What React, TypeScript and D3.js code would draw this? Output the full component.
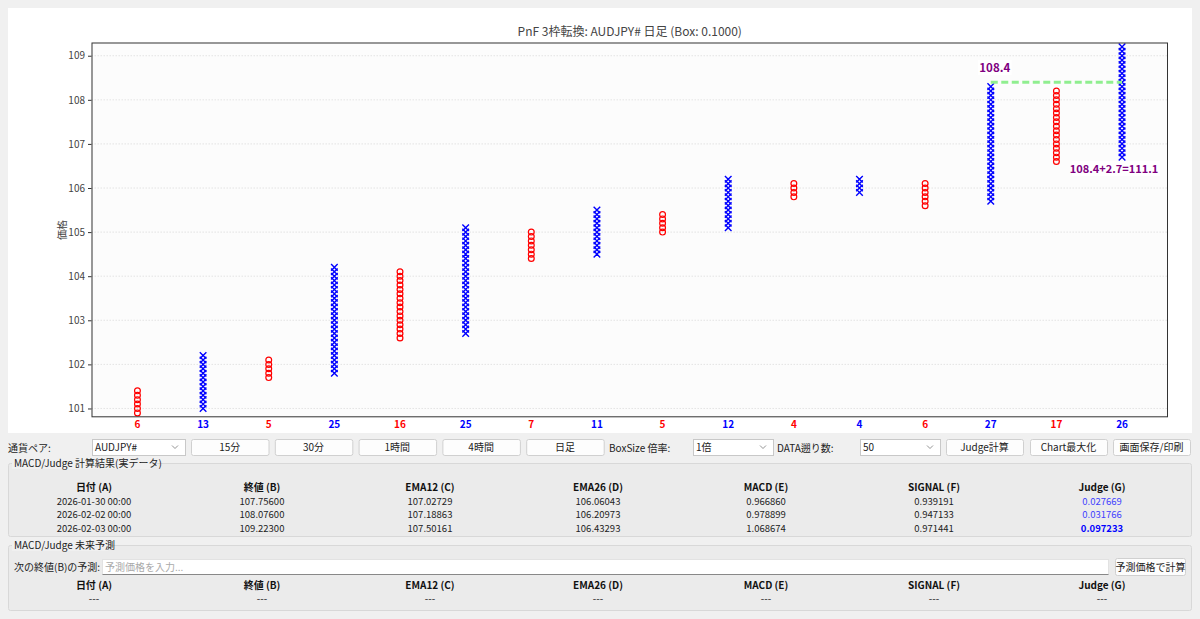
import React, { useRef, useEffect } from 'react';
import * as d3 from 'd3';

// PnF columns (box 0.1)
const colTypes = ['O', 'X', 'O', 'X', 'O', 'X', 'O', 'X', 'O', 'X', 'O', 'X', 'O', 'X', 'O', 'X'];
const colLow = [100.9, 101.0, 101.7, 101.8, 102.6, 102.7, 104.4, 104.5, 105.0, 105.1, 105.8, 105.9, 105.6, 105.7, 106.6, 106.7];
const colHigh = [101.4, 102.2, 102.1, 104.2, 104.1, 105.1, 105.0, 105.5, 105.4, 106.2, 106.1, 106.2, 106.1, 108.3, 108.2, 109.2];
const boxSize = 0.1;
const yTicks = [101, 102, 103, 104, 105, 106, 107, 108, 109];

const breakLevel = 108.4;
const breakFrom = 13;
const breakTo = 15;
const targetText = '108.4+2.7=111.1';

// controls
const timeframes = ['15分', '30分', '1時間', '4時間', '日足'];
const headers = ['日付 (A)', '終値 (B)', 'EMA12 (C)', 'EMA26 (D)', 'MACD (E)', 'SIGNAL (F)', 'Judge (G)'];
const dates = ['2026-01-30 00:00', '2026-02-02 00:00', '2026-02-03 00:00'];
const closes = ['107.75600', '108.07600', '109.22300'];
const ema12 = ['107.02729', '107.18863', '107.50161'];
const ema26 = ['106.06043', '106.20973', '106.43293'];
const macd = ['0.966860', '0.978899', '1.068674'];
const signal = ['0.939191', '0.947133', '0.971441'];
const judge = ['0.027669', '0.031766', '0.097233'];

const FONT = '"Noto Sans CJK JP", "DejaVu Sans", sans-serif';
const W = 1200;
const H = 619;
const plot = { left: 91.5, right: 1168, top: 42.5, bottom: 417.3 };

const x = d3.scaleLinear().domain([-0.7, 15.7]).range([plot.left, plot.right]);
const y = d3.scaleLinear().domain([100.8, 109.3]).range([plot.bottom, plot.top]);

const Button: React.FC<{ x0: number; x1: number; y0: number; label: string }> = ({ x0, x1, y0, label }) => (
  <g>
    <rect x={x0 + 0.5} y={y0 + 0.5} width={x1 - x0} height={16} rx={2} fill='#fdfdfd' stroke='#d0d0d0' />
    <text x={(x0 + x1) / 2} y={y0 + 12} textAnchor='middle' fontSize={10} fill='#222'>{label}</text>
  </g>
);

const Combo: React.FC<{ x0: number; x1: number; y0: number; label: string }> = ({ x0, x1, y0, label }) => (
  <g>
    <rect x={x0 + 0.5} y={y0 + 0.5} width={x1 - x0} height={16} fill='#fff' stroke='#c8c8c8' />
    <text x={x0 + 3} y={y0 + 12} fontSize={10} fill='#222'>{label}</text>
    <path d={`M${x1 - 13},${y0 + 6.5} l3,3 l3,-3`} fill='none' stroke='#777' strokeWidth={0.8} />
  </g>
);

const GroupBox: React.FC<{ y0: number; y1: number; title: string; titleW: number }> = ({ y0, y1, title, titleW }) => (
  <g>
    <rect x={8.5} y={y0 + 0.5} width={1183} height={y1 - y0} rx={2} fill='#ebebeb' stroke='#d8d8d8' />
    <rect x={12} y={y0 - 6} width={titleW} height={12} fill='#f0f0f0' />
    <text x={14} y={y0 + 4} fontSize={10} fill='#222'>{title}</text>
  </g>
);

const App: React.FC = () => {
  const gy = useRef<SVGGElement | null>(null);

  useEffect(() => {
    if (!gy.current) return;
    const axis = d3.axisLeft(y).tickValues(yTicks).tickSize(3.5).tickPadding(3).tickFormat(d3.format('d'));
    const g = d3.select(gy.current);
    g.call(axis);
    g.select('.domain').remove();
    g.selectAll('text').attr('font-size', 10).attr('fill', '#444').attr('font-family', FONT);
    g.selectAll('line').attr('stroke', '#333');
  }, []);

  const colX = (i: number) => x(i);

  const cols = colTypes.map((t, i) => {
    const n = Math.round((colHigh[i] - colLow[i]) / boxSize) + 1;
    const vals = d3.range(n).map((k) => colLow[i] + k * boxSize);
    return { t, i, n, vals };
  });

  const tableX = (c: number) => 10 + (c + 0.5) * ((1186 - 10) / 7);
  const rows = dates.map((d, r) => [d, closes[r], ema12[r], ema26[r], macd[r], signal[r], judge[r]]);

  return (
    <div style={{ position: 'absolute', left: 0, top: 0, width: W, height: H, background: '#f0f0f0' }}>
      <svg width={W} height={H} style={{ display: 'block', fontFamily: FONT }}>
        <rect x={0} y={0} width={W} height={H} fill='#f0f0f0' />
        {/* chart canvas */}
        <rect x={8} y={8} width={1184} height={425} fill='#ffffff' />
        <rect x={plot.left} y={plot.top} width={plot.right - plot.left} height={plot.bottom - plot.top} fill='#fcfcfc' />
        <text x={(plot.left + plot.right) / 2} y={36} textAnchor='middle' fontSize={12} fill='#444'>
          PnF 3枠転換: AUDJPY# 日足 (Box: 0.1000)
        </text>
        <text transform={`translate(66,${(plot.top + plot.bottom) / 2}) rotate(-90)`} textAnchor='middle' fontSize={10} fill='#444'>
          価格
        </text>
        <g>
          {yTicks.map((v) => (
            <line key={v} x1={plot.left} x2={plot.right} y1={y(v)} y2={y(v)} stroke='#dddddd' strokeWidth={0.8} strokeDasharray='1.5,1.5' />
          ))}
        </g>
        <g ref={gy} transform={`translate(${plot.left},0)`} />

        <defs>
          <clipPath id='plotclip'>
            <rect x={plot.left} y={plot.top} width={plot.right - plot.left} height={plot.bottom - plot.top} />
          </clipPath>
        </defs>
        <g clipPath='url(#plotclip)'>
          {cols.map((c) => (
            <g key={c.i}>
              {c.vals.map((v, k) =>
                c.t === 'X' ? (
                  <path
                    key={k}
                    d={`M${colX(c.i) - 3.3},${y(v) - 3.3} L${colX(c.i) + 3.3},${y(v) + 3.3} M${colX(c.i) - 3.3},${y(v) + 3.3} L${colX(c.i) + 3.3},${y(v) - 3.3}`}
                    stroke='#0000ff'
                    strokeWidth={1.4}
                    fill='none'
                  />
                ) : (
                  <circle key={k} cx={colX(c.i)} cy={y(v)} r={2.9} fill='none' stroke='#ff0000' strokeWidth={1.2} />
                )
              )}
            </g>
          ))}
          <line
            x1={colX(breakFrom)}
            x2={colX(breakTo)}
            y1={y(breakLevel)}
            y2={y(breakLevel)}
            stroke='#90ee90'
            strokeWidth={3}
            strokeDasharray='7,3.5'
          />
          {/* annotations */}
          <rect x={colX(breakFrom) - 13} y={60} width={34} height={15} fill='#ffffff' opacity={0.8} />
          <text x={colX(breakFrom) + 4} y={71.5} textAnchor='middle' fontSize={11.5} fontWeight='bold' fill='#800080'>
            {breakLevel.toFixed(1)}
          </text>
          <rect x={colX(breakTo) - 50} y={161} width={88} height={15} fill='#ffffff' opacity={0.8} />
          <text x={colX(breakTo) - 8} y={172.5} textAnchor='middle' fontSize={11} fontWeight='bold' fill='#800080'>
            {targetText}
          </text>
        </g>
        <rect x={plot.left + 0.5} y={plot.top + 0.5} width={plot.right - plot.left - 1} height={plot.bottom - plot.top - 1} fill='none' stroke='#333' strokeWidth={1} />

        {cols.map((c) => (
          <text key={c.i} x={colX(c.i)} y={428} textAnchor='middle' fontSize={10} fontWeight='bold' fill={c.t === 'X' ? '#0000ff' : '#ff0000'}>
            {c.n}
          </text>
        ))}

        {/* controls row */}
        <text x={8} y={451.5} fontSize={10} fill='#222'>通貨ペア:</text>
        <Combo x0={92} x1={185} y0={439} label='AUDJPY#' />
        {timeframes.map((t, i) => (
          <Button key={t} x0={191 + i * 83.8} x1={191 + i * 83.8 + 77.5} y0={439} label={t} />
        ))}
        <text x={609} y={451.5} fontSize={10} fill='#222'>BoxSize 倍率:</text>
        <Combo x0={693} x1={773} y0={439} label='1倍' />
        <text x={777} y={451.5} fontSize={10} fill='#222'>DATA遡り数:</text>
        <Combo x0={860} x1={940} y0={439} label='50' />
        <Button x0={946} x1={1023} y0={439} label='Judge計算' />
        <Button x0={1030} x1={1107} y0={439} label='Chart最大化' />
        <Button x0={1113} x1={1190} y0={439} label='画面保存/印刷' />

        {/* results group */}
        <GroupBox y0={463} y1={536} title='MACD/Judge 計算結果(実データ)' titleW={140} />
        {headers.map((h, c) => (
          <text key={h} x={tableX(c)} y={491} textAnchor='middle' fontSize={10} fontWeight='bold' fill='#111'>{h}</text>
        ))}
        {rows.map((r, ri) =>
          r.map((v, c) => (
            <text
              key={`${ri}-${c}`}
              x={tableX(c)}
              y={504.5 + ri * 13.8}
              textAnchor='middle'
              fontSize={9.5}
              fontWeight={c === 6 && ri === rows.length - 1 ? 'bold' : 'normal'}
              fill={c === 6 ? (ri === rows.length - 1 ? '#0000ff' : '#4040ff') : '#222'}
            >
              {v}
            </text>
          ))
        )}

        {/* forecast group */}
        <GroupBox y0={545} y1={610} title='MACD/Judge 未来予測' titleW={96} />
        <text x={14} y={570.5} fontSize={10} fill='#222'>次の終値(B)の予測:</text>
        <rect x={102.5} y={559.5} width={1006} height={15} fill='#ffffff' stroke='#e2e2e2' />
        <line x1={102.5} x2={1108.5} y1={574.5} y2={574.5} stroke='#888' />
        <text x={105} y={570.5} fontSize={10} fill='#aaa'>予測価格を入力...</text>
        <rect x={1115.5} y={558.5} width={70} height={17} rx={2} fill='#fdfdfd' stroke='#d0d0d0' />
        <text x={1150.5} y={570.5} textAnchor='middle' fontSize={10} fill='#222'>予測価格で計算</text>
        {headers.map((h, c) => (
          <g key={`f-${h}`}>
            <text x={tableX(c)} y={589} textAnchor='middle' fontSize={10} fontWeight='bold' fill='#111'>{h}</text>
            <text x={tableX(c)} y={602} textAnchor='middle' fontSize={10} fill='#222'>---</text>
          </g>
        ))}
      </svg>
    </div>
  );
};

export default App;
